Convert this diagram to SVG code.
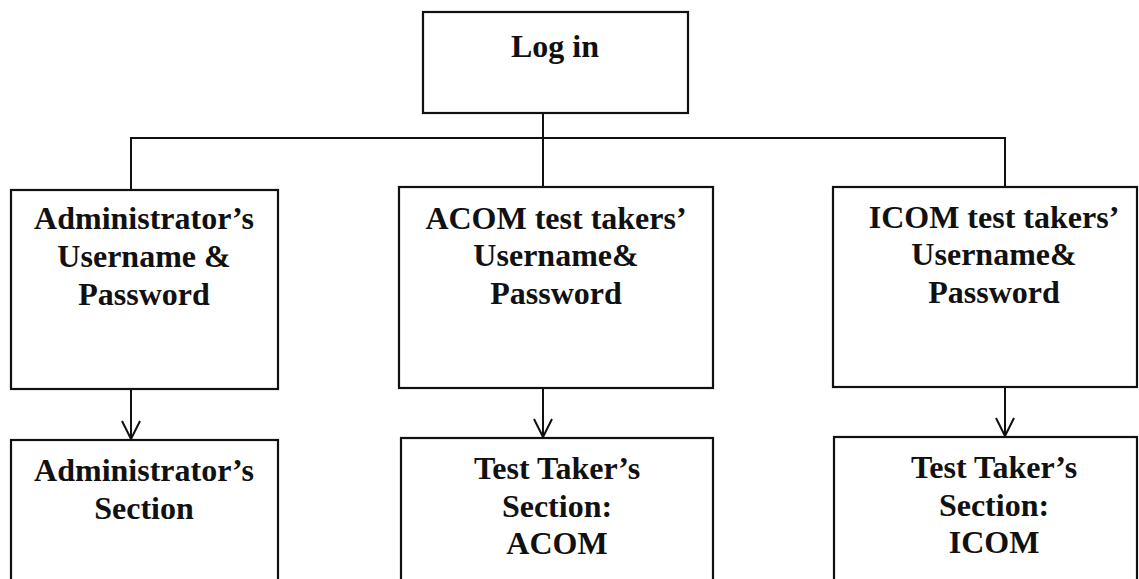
<svg xmlns="http://www.w3.org/2000/svg" width="1139" height="579" viewBox="0 0 1139 579">
<style>
.box{fill:#fff;stroke:#111;stroke-width:2.2}
.conn{fill:none;stroke:#111;stroke-width:2}
text{font-family:"Liberation Serif","Times New Roman",serif;font-weight:bold;font-size:32px;fill:#111;text-anchor:middle}
</style>
<defs>
<marker id="arrow" viewBox="0 0 20 20" refX="19" refY="10" markerWidth="20" markerHeight="20" orient="auto" markerUnits="userSpaceOnUse">
<path d="M1,1 L19,10 L1,19" fill="none" stroke="#111" stroke-width="2"/>
</marker>
</defs>
<rect width="1139" height="579" fill="#fff"/>
<g id="connectors">
<path class="conn" d="M543,113 V187"/>
<path class="conn" d="M131,190 V138 H1005 V187"/>
<path class="conn" d="M131,389 V439" marker-end="url(#arrow)"/>
<path class="conn" d="M543,388 V437" marker-end="url(#arrow)"/>
<path class="conn" d="M1005,387 V436" marker-end="url(#arrow)"/>
</g>
<g id="login">
<rect class="box" x="423" y="12" width="265" height="101"/>
<text x="555" y="57">Log in</text>
</g>
<g id="admin-login">
<rect class="box" x="11" y="190" width="267" height="199"/>
<text x="144" y="229">Administrator’s</text>
<text x="144" y="267">Username &amp;</text>
<text x="144" y="305">Password</text>
</g>
<g id="acom-login">
<rect class="box" x="399" y="187" width="314" height="201"/>
<text x="556" y="229">ACOM test takers’</text>
<text x="556" y="266">Username&amp;</text>
<text x="556" y="304">Password</text>
</g>
<g id="icom-login">
<rect class="box" x="833" y="187" width="304" height="200"/>
<text x="994" y="228">ICOM test takers’</text>
<text x="994" y="265">Username&amp;</text>
<text x="994" y="303">Password</text>
</g>
<g id="admin-section">
<rect class="box" x="11" y="440" width="267" height="160"/>
<text x="144" y="481">Administrator’s</text>
<text x="144" y="519">Section</text>
</g>
<g id="acom-section">
<rect class="box" x="401" y="438" width="312" height="160"/>
<text x="557" y="479">Test Taker’s</text>
<text x="557" y="517">Section:</text>
<text x="557" y="554">ACOM</text>
</g>
<g id="icom-section">
<rect class="box" x="834" y="437" width="303" height="160"/>
<text x="994" y="478">Test Taker’s</text>
<text x="994" y="516">Section:</text>
<text x="994" y="553">ICOM</text>
</g>
</svg>
